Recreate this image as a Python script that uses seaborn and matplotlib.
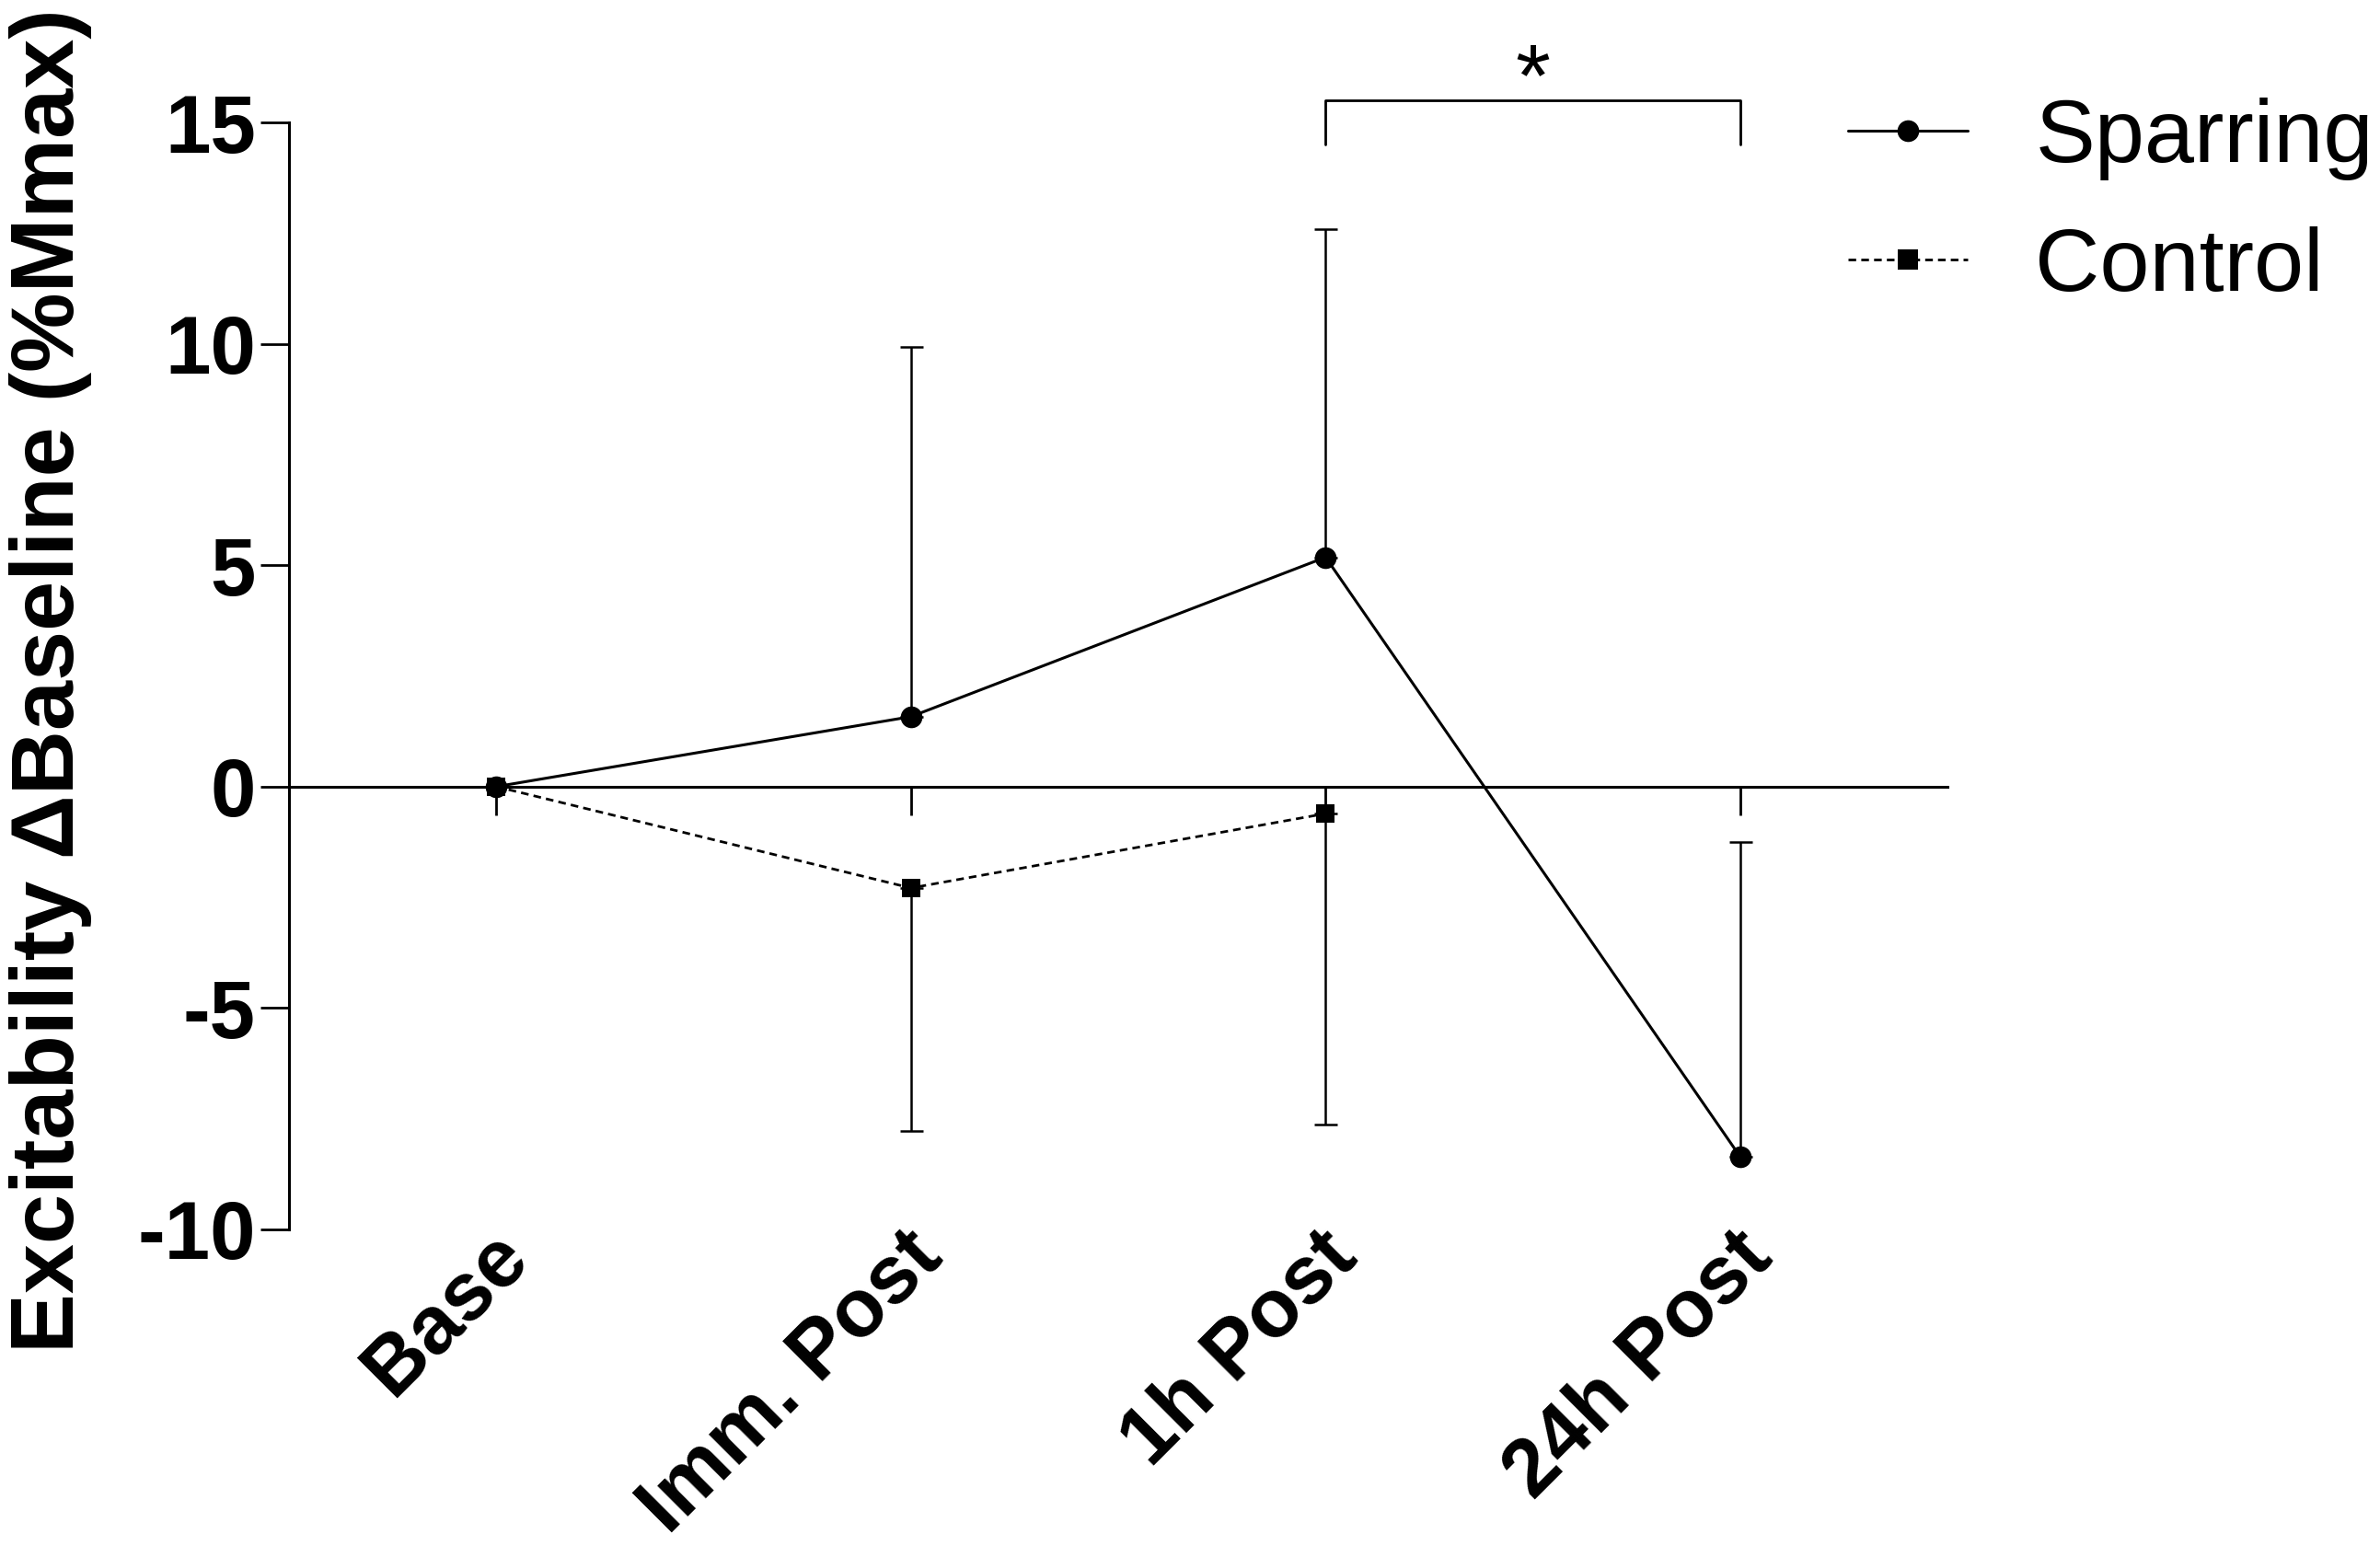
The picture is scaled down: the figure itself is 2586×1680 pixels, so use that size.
import numpy as np
import pandas as pd
import matplotlib.pyplot as plt
import matplotlib.transforms as mtransforms
import seaborn as sns

# datos
timepoints = ["Base", "Imm. Post", "1h Post", "24h Post"]
sparring_mean = [0.0, 1.58, 5.18, -8.36]
sparring_sd = [0.0, 8.36, 7.40, 7.11]     # barra solo hacia arriba
control_mean = [0.0, -2.29, -0.61, np.nan]
control_sd = [0.0, 5.49, 7.03, np.nan]    # barra solo hacia abajo
groups = ["Sparring", "Control"]
y_ticks = [-10, -5, 0, 5, 10, 15]
sig_pair = (2, 3)
sig_height = (14.5, 15.5)

sns.set_style("ticks", {"text.color": "black", "axes.labelcolor": "black",
                        "xtick.color": "black", "ytick.color": "black",
                        "axes.edgecolor": "black"})
plt.rcParams["font.family"] = ["Liberation Sans", "DejaVu Sans"]

df = pd.DataFrame({
    "tiempo": timepoints * 2,
    "valor": sparring_mean + control_mean,
    "grupo": [groups[0]] * 4 + [groups[1]] * 4,
})

fig = plt.figure(figsize=(12.93, 8.4), dpi=200)
ax = fig.add_axes([0.1214, 0.2048, 0.8183 - 0.1214, 0.9208 - 0.2048])

x = np.arange(len(timepoints))
ax.errorbar(x, sparring_mean, yerr=[np.zeros(4), sparring_sd], fmt="none",
            ecolor="black", elinewidth=0.9, capsize=4.5, capthick=0.9, zorder=2)
ax.errorbar(x, control_mean, yerr=[control_sd, np.zeros(4)], fmt="none",
            ecolor="black", elinewidth=0.9, capsize=4.5, capthick=0.9, zorder=2)

sns.lineplot(data=df, x="tiempo", y="valor", style="grupo", style_order=groups,
             markers={"Sparring": "o", "Control": "s"},
             dashes={"Sparring": "", "Control": (3, 2)},
             color="black", markeredgewidth=0, markersize=8.5,
             errorbar=None, ax=ax, zorder=3, legend=False)
for line in ax.lines:
    if line.get_marker() == "s":
        line.set_markersize(7.5)
        line.set_linewidth(1.0)
    else:
        line.set_linewidth(1.1)

ax.set_xlim(-0.5, len(timepoints) - 0.5)
ax.set_ylim(-10, 15)
ax.set_yticks(y_ticks)
ax.set_yticklabels([str(t) for t in y_ticks], fontsize=32, fontweight="bold")
ax.set_xticks(x)
ax.tick_params(axis="x", labelbottom=False, length=11, width=1.0, direction="out")
ax.tick_params(axis="y", length=11, width=1.0, pad=2)
ax.spines["bottom"].set_position(("data", 0))
for s in ["top", "right"]:
    ax.spines[s].set_visible(False)
for s in ["left", "bottom"]:
    ax.spines[s].set_linewidth(1.1)
ax.set_xlabel("")

ax.set_ylabel("Excitability \u0394Baseline (%Mmax)", fontsize=35, fontweight="bold")
ax.yaxis.set_label_coords(-0.1185, 0.496)

# etiquetas del eje x bajo el gráfico
sec = ax.secondary_xaxis(0)
sec.set_xticks(x)
sec.set_xticklabels(timepoints, rotation=45, ha="right", va="center",
                    rotation_mode="anchor", fontsize=32, fontweight="bold")
sec.tick_params(length=0, pad=6)
sec.spines["bottom"].set_visible(False)
offset = mtransforms.ScaledTranslation(0.105, 0, fig.dpi_scale_trans)
for lab in sec.get_xticklabels():
    lab.set_transform(lab.get_transform() + offset)

# corchete de significancia
i, j = sig_pair
ax.plot([x[i], x[i], x[j], x[j]],
        [sig_height[0], sig_height[1], sig_height[1], sig_height[0]],
        color="black", lw=1.0, clip_on=False)
ax.text((x[i] + x[j]) / 2, sig_height[1] - 0.55, "*", ha="center", va="bottom",
        fontsize=35, clip_on=False)

handles = [
    plt.Line2D([], [], color="black", lw=1.1, marker="o", markersize=8.5, markeredgewidth=0),
    plt.Line2D([], [], color="black", lw=1.0, ls=(0, (3, 2)), marker="s", markersize=8, markeredgewidth=0),
]
fig.legend(handles, groups, loc="center left", bbox_to_anchor=(0.7765, 0.8685),
           frameon=False, fontsize=35, handlelength=1.34, handletextpad=0.75,
           labelspacing=0.52, borderpad=0, borderaxespad=0)

fig.savefig("out.png", dpi=200)
